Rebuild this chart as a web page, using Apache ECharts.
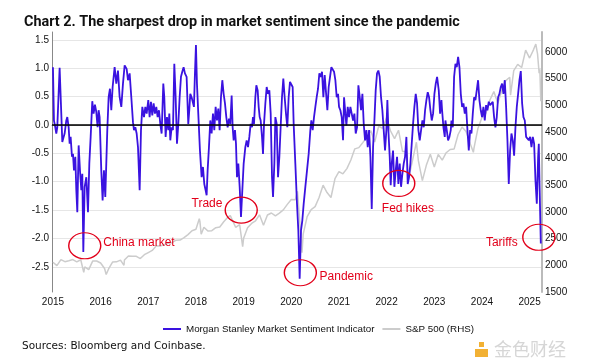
<!DOCTYPE html>
<html><head><meta charset="utf-8">
<script src="https://cdn.jsdelivr.net/npm/echarts@6/dist/echarts.min.js"></script>
<style>html,body{margin:0;padding:0;background:#fff}#c{width:589px;height:362px}</style>
</head><body><div id="c"></div>
<script>
// Morgan Stanley Market Sentiment Indicator (decimal year, value)
const sentDates = [2015.000,2015.021,2015.049,2015.070,2015.091,2015.140,2015.175,2015.196,2015.224,2015.245,2015.280,2015.301,2015.329,2015.350,2015.371,2015.399,2015.420,2015.441,2015.469,2015.490,2015.511,2015.539,2015.567,2015.595,2015.616,2015.637,2015.665,2015.700,2015.735,2015.763,2015.791,2015.825,2015.853,2015.881,2015.909,2015.937,2015.958,2015.979,2016.014,2016.042,2016.070,2016.098,2016.140,2016.168,2016.196,2016.224,2016.252,2016.294,2016.329,2016.364,2016.399,2016.434,2016.469,2016.504,2016.546,2016.574,2016.609,2016.644,2016.679,2016.700,2016.728,2016.756,2016.784,2016.819,2016.847,2016.875,2016.910,2016.938,2016.966,
2017.000,2017.028,2017.056,2017.084,2017.112,2017.140,2017.168,2017.196,2017.224,2017.252,2017.280,2017.315,2017.336,2017.364,2017.392,2017.420,2017.441,2017.462,2017.490,2017.518,2017.546,2017.574,2017.602,2017.630,2017.658,2017.686,2017.713,2017.741,2017.769,2017.804,2017.839,2017.860,2017.881,2017.909,2017.930,2017.958,2017.979,2018.000,2018.021,2018.049,2018.084,2018.119,2018.147,2018.175,2018.203,2018.224,2018.245,2018.273,2018.301,2018.329,2018.357,2018.385,2018.413,2018.441,2018.469,2018.497,2018.525,2018.553,2018.581,2018.609,2018.637,2018.665,2018.693,2018.721,2018.749,2018.770,2018.791,2018.819,2018.840,2018.861,2018.889,2018.917,2018.945,
2019.001,2019.036,2019.064,2019.092,2019.120,2019.148,2019.176,2019.197,2019.218,2019.246,2019.267,2019.295,2019.316,2019.337,2019.358,2019.386,2019.407,2019.428,2019.456,2019.484,2019.512,2019.540,2019.568,2019.596,2019.617,2019.645,2019.666,2019.694,2019.722,2019.750,2019.777,2019.805,2019.833,2019.861,2019.889,2019.917,2019.945,2019.973,2020.001,2020.029,2020.050,2020.085,2020.120,2020.148,2020.176,2020.204,2020.232,2020.260,2020.295,2020.330,2020.365,2020.400,2020.421,2020.449,2020.477,2020.505,2020.533,2020.561,2020.589,2020.617,2020.645,2020.673,2020.701,2020.729,2020.757,2020.785,2020.813,2020.841,2020.869,2020.897,2020.925,2020.953,2020.981,
2021.002,2021.030,2021.058,2021.086,2021.107,2021.135,2021.156,2021.184,2021.212,2021.240,2021.268,2021.296,2021.324,2021.352,2021.380,2021.408,2021.436,2021.464,2021.492,2021.520,2021.548,2021.576,2021.604,2021.632,2021.660,2021.688,2021.716,2021.744,2021.771,2021.799,2021.827,2021.855,2021.883,2021.911,2021.939,2021.967,2021.995,2022.016,2022.037,2022.065,2022.086,2022.107,2022.135,2022.163,2022.191,2022.219,2022.247,2022.275,2022.303,2022.331,2022.359,2022.387,2022.415,2022.443,2022.471,2022.499,2022.527,2022.555,2022.583,2022.611,2022.639,2022.667,2022.695,2022.723,2022.751,2022.779,2022.807,2022.835,2022.863,2022.891,2022.919,2022.947,2022.975,2023.003,2023.031,2023.059,
2023.094,2023.122,2023.150,2023.164,2023.192,2023.220,2023.234,2023.262,2023.290,2023.318,2023.346,2023.360,2023.388,2023.416,2023.444,2023.472,2023.500,2023.528,2023.556,2023.584,2023.612,2023.640,2023.668,2023.696,2023.724,2023.752,2023.780,2023.808,2023.836,2023.863,2023.891,2023.919,2023.947,2023.975,2024.003,2024.031,2024.059,2024.087,2024.115,2024.143,2024.171,2024.199,2024.227,2024.255,2024.283,2024.311,2024.339,2024.367,2024.395,2024.423,2024.451,2024.479,2024.507,2024.535,2024.563,2024.591,2024.619,2024.647,2024.675,2024.703,2024.731,2024.759,2024.787,2024.815,2024.843,2024.871,2024.899,2024.927,2024.955,2024.983,2025.011,2025.039,2025.067,2025.095,2025.123,2025.151,2025.179,2025.193,2025.207,2025.235];
const sentValues = [1.02,0.08,-0.04,-0.15,-0.04,1.01,0.20,-0.30,-0.21,-0.15,0.08,0.14,-0.04,-0.33,-0.21,-0.56,-0.51,-0.80,-0.56,-1.15,-1.54,-0.36,-0.80,-1.15,-0.86,-2.24,-1.09,-0.92,-1.54,-0.68,-0.21,0.42,0.20,0.36,0.23,-0.04,0.26,0.14,-0.80,-1.33,-0.80,-1.27,-0.09,0.49,0.64,0.26,0.67,1.02,0.73,0.96,0.49,0.32,0.73,1.05,0.99,0.79,0.91,0.49,0.05,-0.09,-0.04,-0.15,-0.39,-1.15,-0.09,0.32,0.14,0.32,0.20,
0.44,0.14,0.41,0.17,0.38,0.20,0.32,0.14,0.26,0.02,-0.15,0.73,0.49,-0.21,0.14,-0.09,0.20,-0.27,-0.04,-0.09,1.08,0.49,-0.33,0.02,0.49,0.85,0.94,1.02,0.91,0.85,0.02,0.26,0.55,0.49,0.52,0.32,0.91,1.41,0.73,0.20,-0.45,-0.92,-0.74,-1.04,-1.15,-1.24,-0.80,-0.39,0.08,-0.15,0.20,-0.09,0.32,0.08,0.29,-0.09,0.49,0.79,0.55,0.38,0.14,-0.04,0.11,0.02,0.52,-0.04,-0.27,-0.09,-0.33,-0.92,-0.68,-1.09,-1.62,
-0.68,-0.39,-0.27,-0.39,-0.21,0.02,-0.04,0.14,0.02,0.49,0.70,0.61,0.32,0.14,0.08,-0.21,-0.51,0.02,0.38,0.67,0.55,0.61,0.20,-0.92,-1.27,-0.68,0.14,0.02,-0.92,-0.56,-0.04,0.49,0.82,0.49,0.20,-0.04,0.49,0.76,0.73,0.67,0.02,-0.68,-1.39,-1.86,-2.71,-1.86,-1.68,-1.39,-1.09,-0.80,-0.51,-0.09,0.08,-0.09,0.14,0.32,0.49,0.64,0.91,0.85,0.94,0.49,0.88,0.85,0.26,0.67,0.85,1.02,1.05,0.94,0.79,0.49,0.55,
0.32,0.26,0.14,-0.27,0.49,0.20,-0.01,0.32,0.14,0.32,0.35,0.08,0.20,-0.15,-0.04,0.70,0.49,0.26,0.55,0.02,-0.27,-0.09,-0.39,-0.09,-0.56,-1.48,-0.39,0.08,0.61,0.91,0.96,0.85,0.49,0.26,-0.09,-0.45,-0.09,0.44,-0.09,-0.56,-1.06,-0.68,-0.45,-1.09,-0.80,-0.56,-1.04,-0.68,-1.09,-0.86,-0.68,-0.56,-0.21,-1.04,-0.92,-0.68,-0.33,0.02,0.32,0.55,0.38,-0.09,-0.27,-0.09,0.08,-0.04,0.26,0.44,0.58,0.49,0.26,0.08,0.20,0.55,0.73,0.85,
0.61,0.20,0.44,0.26,-0.04,-0.21,0.08,-0.09,-0.27,-0.21,-0.09,0.08,-0.04,0.85,1.08,1.02,1.20,1.02,0.55,0.32,0.38,0.20,0.32,-0.09,-0.45,-0.09,-0.15,0.20,0.49,0.44,0.61,0.79,0.44,0.26,0.14,0.32,0.08,0.35,0.26,0.41,0.35,0.32,0.41,0.14,-0.04,0.14,0.49,0.55,0.67,0.73,0.55,0.79,0.32,-0.27,-1.04,-0.45,-0.15,-0.27,-0.54,-0.04,0.32,0.55,0.79,0.95,0.38,0.14,0.08,-0.21,-0.21,-0.27,-0.21,-0.39,-0.21,-0.33,-0.98,-1.39,-0.56,-0.33,-0.98,-2.09];

// S&P 500 (RHS)
const spDates = [2015.000,2015.083,2015.167,2015.250,2015.333,2015.417,2015.500,2015.583,2015.646,2015.667,2015.750,2015.833,2015.917,2016.000,2016.083,2016.117,2016.167,2016.250,2016.333,2016.417,2016.490,2016.500,2016.583,2016.667,2016.750,2016.833,2016.917,2017.000,2017.083,2017.167,2017.250,2017.333,2017.417,2017.500,2017.583,2017.667,2017.750,2017.833,2017.917,2018.000,2018.070,2018.083,2018.110,2018.167,2018.250,2018.333,2018.417,2018.500,2018.583,2018.667,2018.720,2018.833,2018.917,2018.980,2019.000,2019.083,2019.167,2019.250,2019.333,2019.417,2019.500,2019.583,2019.667,2019.750,2019.833,2019.917,2020.000,2020.083,2020.130,2020.167,2020.225,2020.250,2020.333,2020.417,2020.500,2020.583,2020.667,2020.750,2020.833,2020.917,2021.000,2021.083,2021.167,2021.250,2021.333,2021.417,2021.500,2021.583,2021.667,2021.750,2021.833,2021.917,2022.000,2022.083,2022.167,2022.250,2022.333,2022.417,2022.455,2022.500,2022.583,2022.625,2022.667,2022.750,2022.780,2022.833,2022.917,2023.000,2023.083,2023.167,2023.250,2023.333,2023.417,2023.500,2023.583,2023.667,2023.750,2023.820,2023.833,2023.917,2024.000,2024.083,2024.167,2024.250,2024.333,2024.417,2024.500,2024.583,2024.600,2024.667,2024.750,2024.833,2024.917,2025.000,2025.083,2025.130,2025.167,2025.200,2025.215,2025.235];
const spValues = [2058,1995,2105,2068,2086,2107,2063,2104,1868,1972,1920,2079,2080,2044,1940,1829,1932,2060,2065,2097,2000,2099,2174,2171,2168,2126,2199,2239,2279,2364,2363,2384,2412,2423,2470,2472,2519,2575,2648,2674,2873,2824,2581,2714,2641,2648,2705,2718,2816,2902,2931,2712,2760,2351,2507,2704,2784,2834,2946,2752,2942,2980,2926,2977,3038,3141,3231,3226,3386,2954,2237,2585,2912,3044,3100,3271,3500,3363,3270,3622,3756,3714,3811,3973,4181,4204,4298,4395,4523,4308,4605,4567,4766,4516,4374,4530,4132,4132,3667,3785,4130,4305,3955,3586,3577,3872,4080,3840,4077,3970,4109,4169,4180,4450,4589,4508,4288,4117,4194,4568,4770,4846,5096,5254,5036,5278,5460,5522,5186,5648,5762,5705,6032,5882,6041,6144,5955,5600,5670,5074];

const yearTicks = [2015,2016,2017,2018,2019,2020,2021,2022,2023,2024,2025];
const leftTicks = [-2.5,-2,-1.5,-1,-0.5,0,0.5,1,1.5];
const rightTicks = [1500,2000,2500,3000,3500,4000,4500,5000,5500,6000];

const circleNotes = [[2015.667,-2.13],[2018.950,-1.50],[2020.190,-2.605],[2022.255,-1.03],[2025.193,-1.98]];
const textNotes = [["China market",2016.805,-2.07],["Trade",2018.232,-1.39],["Pandemic",2021.153,-2.675],["Fed hikes",2022.446,-1.48],["Tariffs",2024.416,-2.07]];

const SANS = "Arial,'Liberation Sans',sans-serif";
const RED = '#e2001a';

const sentData = sentDates.map((d,i)=>[d,sentValues[i]]);
const spData = spDates.map((d,i)=>[d,spValues[i]]);

const markData = circleNotes.map(c=>({coord:c,symbol:'circle',symbolSize:[32,26],
  itemStyle:{color:'rgba(0,0,0,0)',borderColor:RED,borderWidth:1.3},label:{show:false}}))
 .concat(textNotes.map(t=>({coord:[t[1],t[2]],symbol:'rect',symbolSize:[1,1],
  itemStyle:{color:'rgba(0,0,0,0)'},
  label:{show:true,position:'inside',formatter:t[0],color:RED,fontSize:12,fontFamily:SANS}})));

const chart = echarts.init(document.getElementById('c'),null,{renderer:'canvas'});
chart.setOption({
  animation:false,
  backgroundColor:'#fff',
  title:{text:'Chart 2. The sharpest drop in market sentiment since the pandemic',left:19,top:10,
    textStyle:{fontFamily:'Roboto',fontWeight:'bold',fontSize:14.4,color:'#111'}},
  grid:{left:52,right:47,top:32,bottom:70,containLabel:false,outerBoundsMode:'none'},
  legend:{left:158,top:319,itemWidth:18,itemHeight:2,itemGap:8,icon:'rect',
    data:['Morgan Stanley Market Sentiment Indicator','S&P 500 (RHS)'],
    textStyle:{fontFamily:SANS,fontSize:9.8,color:'#111'}},
  xAxis:{type:'value',min:2014.98,max:2025.26,
    axisLine:{show:true,lineStyle:{color:'#999',width:1}},
    axisTick:{show:false},splitLine:{show:false},
    axisLabel:{customValues:yearTicks,margin:5,fontFamily:SANS,fontSize:10,color:'#111',formatter:v=>String(Math.round(v))}},
  yAxis:[
    {type:'value',min:-2.945,max:1.64,position:'left',
     axisLine:{show:true,lineStyle:{color:'#888',width:1}},
     axisTick:{show:false,customValues:leftTicks},
     splitLine:{show:true,lineStyle:{color:'#e6e6e6',width:1}},
     axisLabel:{customValues:leftTicks,margin:3,fontFamily:SANS,fontSize:10,color:'#111',formatter:v=>v.toFixed(1)}},
    {type:'value',min:1500,max:6370,position:'right',
     axisLine:{show:true,lineStyle:{color:'#bbb',width:2}},
     axisTick:{show:false},splitLine:{show:false},
     axisLabel:{customValues:rightTicks,margin:3,fontFamily:SANS,fontSize:10,color:'#111',formatter:v=>String(Math.round(v))}}
  ],
  series:[
    {name:'S&P 500 (RHS)',type:'line',yAxisIndex:1,data:spData,showSymbol:false,symbol:'none',
     lineStyle:{color:'#cccccc',width:1.5},itemStyle:{color:'#cccccc'},z:2},
    {name:'Morgan Stanley Market Sentiment Indicator',type:'line',yAxisIndex:0,data:sentData,showSymbol:false,symbol:'none',
     lineStyle:{color:'#3a12e0',width:1.8},itemStyle:{color:'#3a12e0'},z:3,
     markLine:{silent:true,symbol:['none','none'],label:{show:false},lineStyle:{color:'#000',width:1.5,type:'solid'},data:[{yAxis:0}]},
     markPoint:{silent:true,data:markData}}
  ],
  graphic:[
    {type:'text',left:22,top:341,style:{text:'Sources: Bloomberg and Coinbase.',fontFamily:'DejaVu Sans',fontSize:10.5,fill:'#111'}},
    {type:'rect',shape:{x:479,y:342,width:5,height:5},style:{fill:'#f2b134'}},
    {type:'rect',shape:{x:475,y:349,width:13,height:8},style:{fill:'#f2b134'}},
    {type:'text',left:494,top:340,style:{text:'金色财经',fontFamily:'Noto Sans CJK SC',fontSize:18,fill:'#d6d6d6'}}
  ]
});
</script></body></html>
